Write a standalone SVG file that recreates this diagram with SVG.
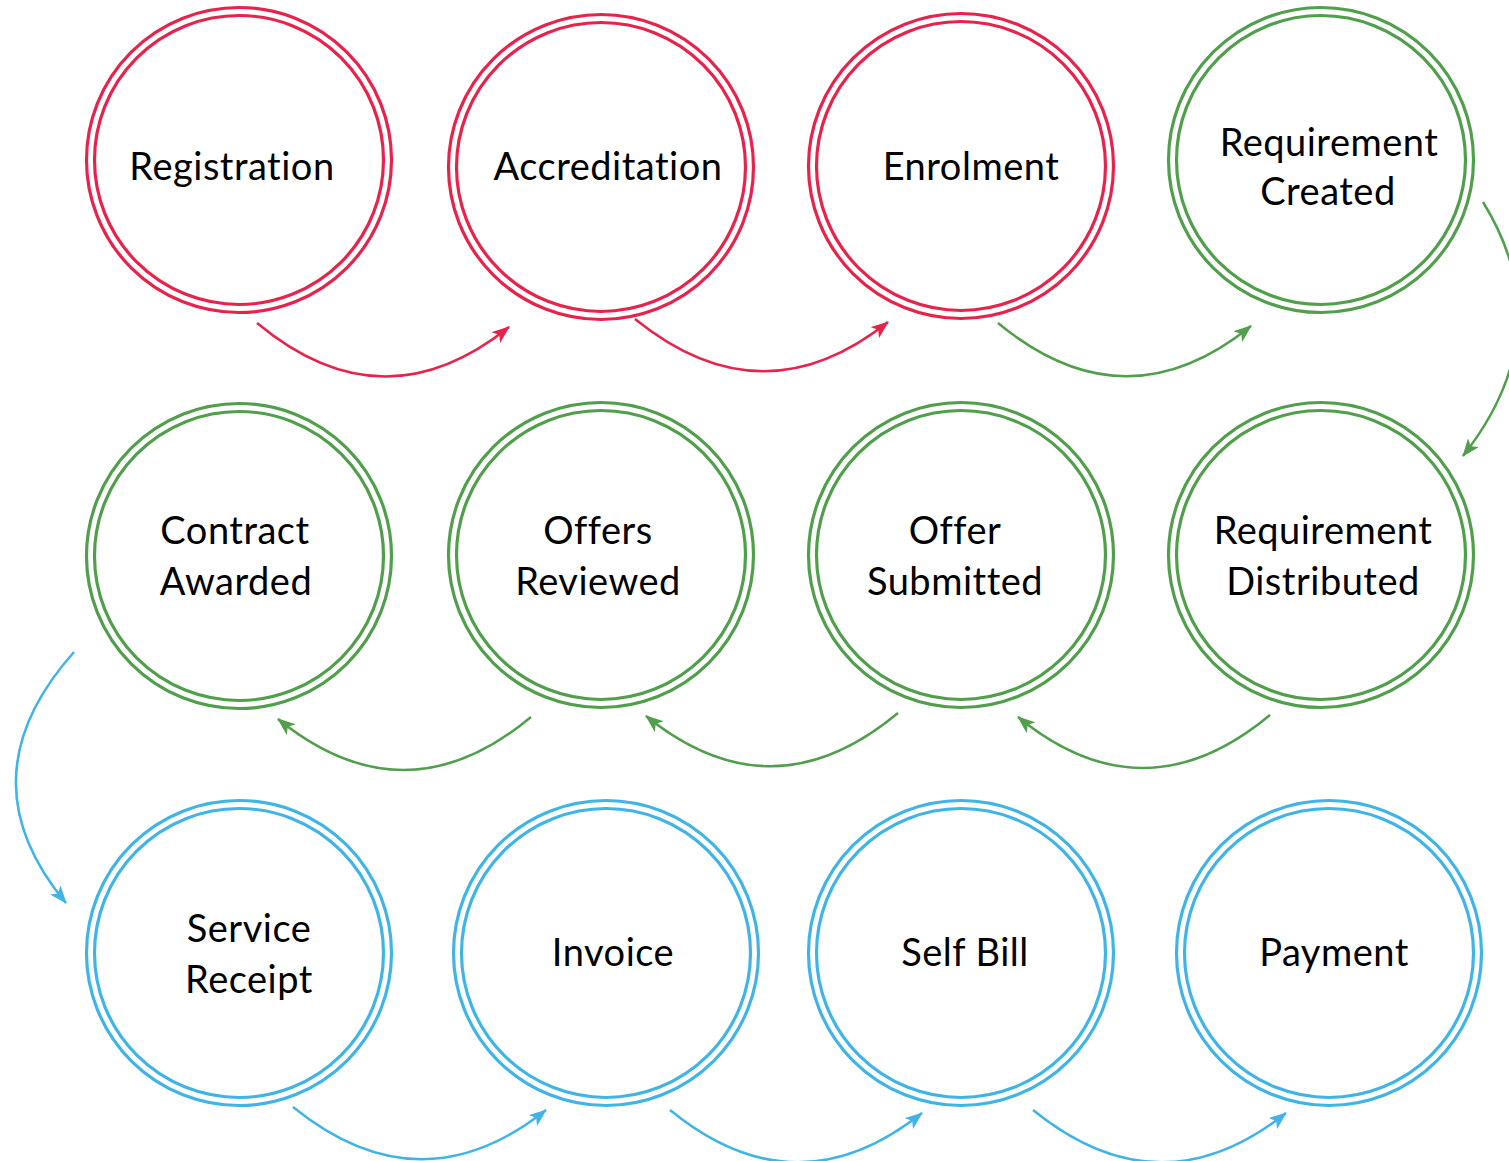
<svg xmlns="http://www.w3.org/2000/svg" width="1509" height="1161" viewBox="0 0 1509 1161">
<style>
  .ring { fill: none; stroke-width: 3.2; }
  .red .ring { stroke: #E8234B; }
  .green .ring { stroke: #519E4C; }
  .blue .ring { stroke: #41B4E6; }
  .label { font-family: Lato, "Liberation Sans", sans-serif; font-size: 38px; letter-spacing: 0.5px; fill: #000; text-anchor: middle; }
  .conn { fill: none; stroke-width: 2.5; }
  .c-red { stroke: #E8234B; }
  .c-green { stroke: #519E4C; }
  .c-blue { stroke: #41B4E6; }
</style>
<defs>
  <marker id="ah-red" viewBox="0 0 18 14" refX="17" refY="7" markerWidth="18" markerHeight="14" markerUnits="userSpaceOnUse" orient="auto">
    <path d="M0,0 L18,7 L0,14 L4.5,7 Z" fill="#E8234B"/>
  </marker>
  <marker id="ah-green" viewBox="0 0 18 14" refX="17" refY="7" markerWidth="18" markerHeight="14" markerUnits="userSpaceOnUse" orient="auto">
    <path d="M0,0 L18,7 L0,14 L4.5,7 Z" fill="#519E4C"/>
  </marker>
  <marker id="ah-blue" viewBox="0 0 18 14" refX="17" refY="7" markerWidth="18" markerHeight="14" markerUnits="userSpaceOnUse" orient="auto">
    <path d="M0,0 L18,7 L0,14 L4.5,7 Z" fill="#41B4E6"/>
  </marker>
</defs>
<rect width="1509" height="1161" fill="#fff"/>

<g id="connectors">
  <path class="conn c-red" d="M257,323 Q383,428 509,327" marker-end="url(#ah-red)"/>
  <path class="conn c-red" d="M635,319 Q762,422 888,322" marker-end="url(#ah-red)"/>
  <path class="conn c-green" d="M998,323 Q1125,428 1251,326" marker-end="url(#ah-green)"/>
  <path class="conn c-green" d="M1483,202 Q1562,330 1463,456" marker-end="url(#ah-green)"/>
  <path class="conn c-green" d="M1270,715 Q1144,820 1018,717" marker-end="url(#ah-green)"/>
  <path class="conn c-green" d="M898,713 Q772,818 646,716" marker-end="url(#ah-green)"/>
  <path class="conn c-green" d="M531,717 Q405,822 278,719" marker-end="url(#ah-green)"/>
  <path class="conn c-blue" d="M74,652 Q-38,778 66,903" marker-end="url(#ah-blue)"/>
  <path class="conn c-blue" d="M293,1107 Q420,1210 546,1110" marker-end="url(#ah-blue)"/>
  <path class="conn c-blue" d="M670,1110 Q796,1213 922,1113" marker-end="url(#ah-blue)"/>
  <path class="conn c-blue" d="M1033,1110 Q1160,1213 1286,1113" marker-end="url(#ah-blue)"/>
</g>

<g id="registration" class="red">
  <circle class="ring" cx="239" cy="160" r="152.5"/><circle class="ring" cx="239" cy="160" r="144.5"/>
  <text class="label" x="232" y="180">Registration</text>
</g>
<g id="accreditation" class="red">
  <circle class="ring" cx="601" cy="167" r="152.5"/><circle class="ring" cx="601" cy="167" r="144.5"/>
  <text class="label" x="608" y="180">Accreditation</text>
</g>
<g id="enrolment" class="red">
  <circle class="ring" cx="961" cy="166" r="152.5"/><circle class="ring" cx="961" cy="166" r="144.5"/>
  <text class="label" x="971" y="180">Enrolment</text>
</g>
<g id="requirement-created" class="green">
  <circle class="ring" cx="1321" cy="160" r="152.5"/><circle class="ring" cx="1321" cy="160" r="144.5"/>
  <text class="label" x="1329" y="156">Requirement</text>
  <text class="label" x="1328" y="205">Created</text>
</g>

<g id="contract-awarded" class="green">
  <circle class="ring" cx="239" cy="556" r="152.5"/><circle class="ring" cx="239" cy="556" r="144.5"/>
  <text class="label" x="235" y="544">Contract</text>
  <text class="label" x="236" y="595">Awarded</text>
</g>
<g id="offers-reviewed" class="green">
  <circle class="ring" cx="601" cy="555" r="152.5"/><circle class="ring" cx="601" cy="555" r="144.5"/>
  <text class="label" x="598" y="544">Offers</text>
  <text class="label" x="598" y="595">Reviewed</text>
</g>
<g id="offer-submitted" class="green">
  <circle class="ring" cx="961" cy="555" r="152.5"/><circle class="ring" cx="961" cy="555" r="144.5"/>
  <text class="label" x="955" y="544">Offer</text>
  <text class="label" x="955" y="595">Submitted</text>
</g>
<g id="requirement-distributed" class="green">
  <circle class="ring" cx="1321" cy="555" r="152.5"/><circle class="ring" cx="1321" cy="555" r="144.5"/>
  <text class="label" x="1323" y="544">Requirement</text>
  <text class="label" x="1323" y="595">Distributed</text>
</g>

<g id="service-receipt" class="blue">
  <circle class="ring" cx="239" cy="953" r="152.5"/><circle class="ring" cx="239" cy="953" r="144.5"/>
  <text class="label" x="249" y="942">Service</text>
  <text class="label" x="249" y="993">Receipt</text>
</g>
<g id="invoice" class="blue">
  <circle class="ring" cx="606" cy="953" r="152.5"/><circle class="ring" cx="606" cy="953" r="144.5"/>
  <text class="label" x="613" y="966">Invoice</text>
</g>
<g id="self-bill" class="blue">
  <circle class="ring" cx="961" cy="953" r="152.5"/><circle class="ring" cx="961" cy="953" r="144.5"/>
  <text class="label" x="965" y="966">Self Bill</text>
</g>
<g id="payment" class="blue">
  <circle class="ring" cx="1329" cy="953" r="152.5"/><circle class="ring" cx="1329" cy="953" r="144.5"/>
  <text class="label" x="1334" y="966">Payment</text>
</g>
</svg>
